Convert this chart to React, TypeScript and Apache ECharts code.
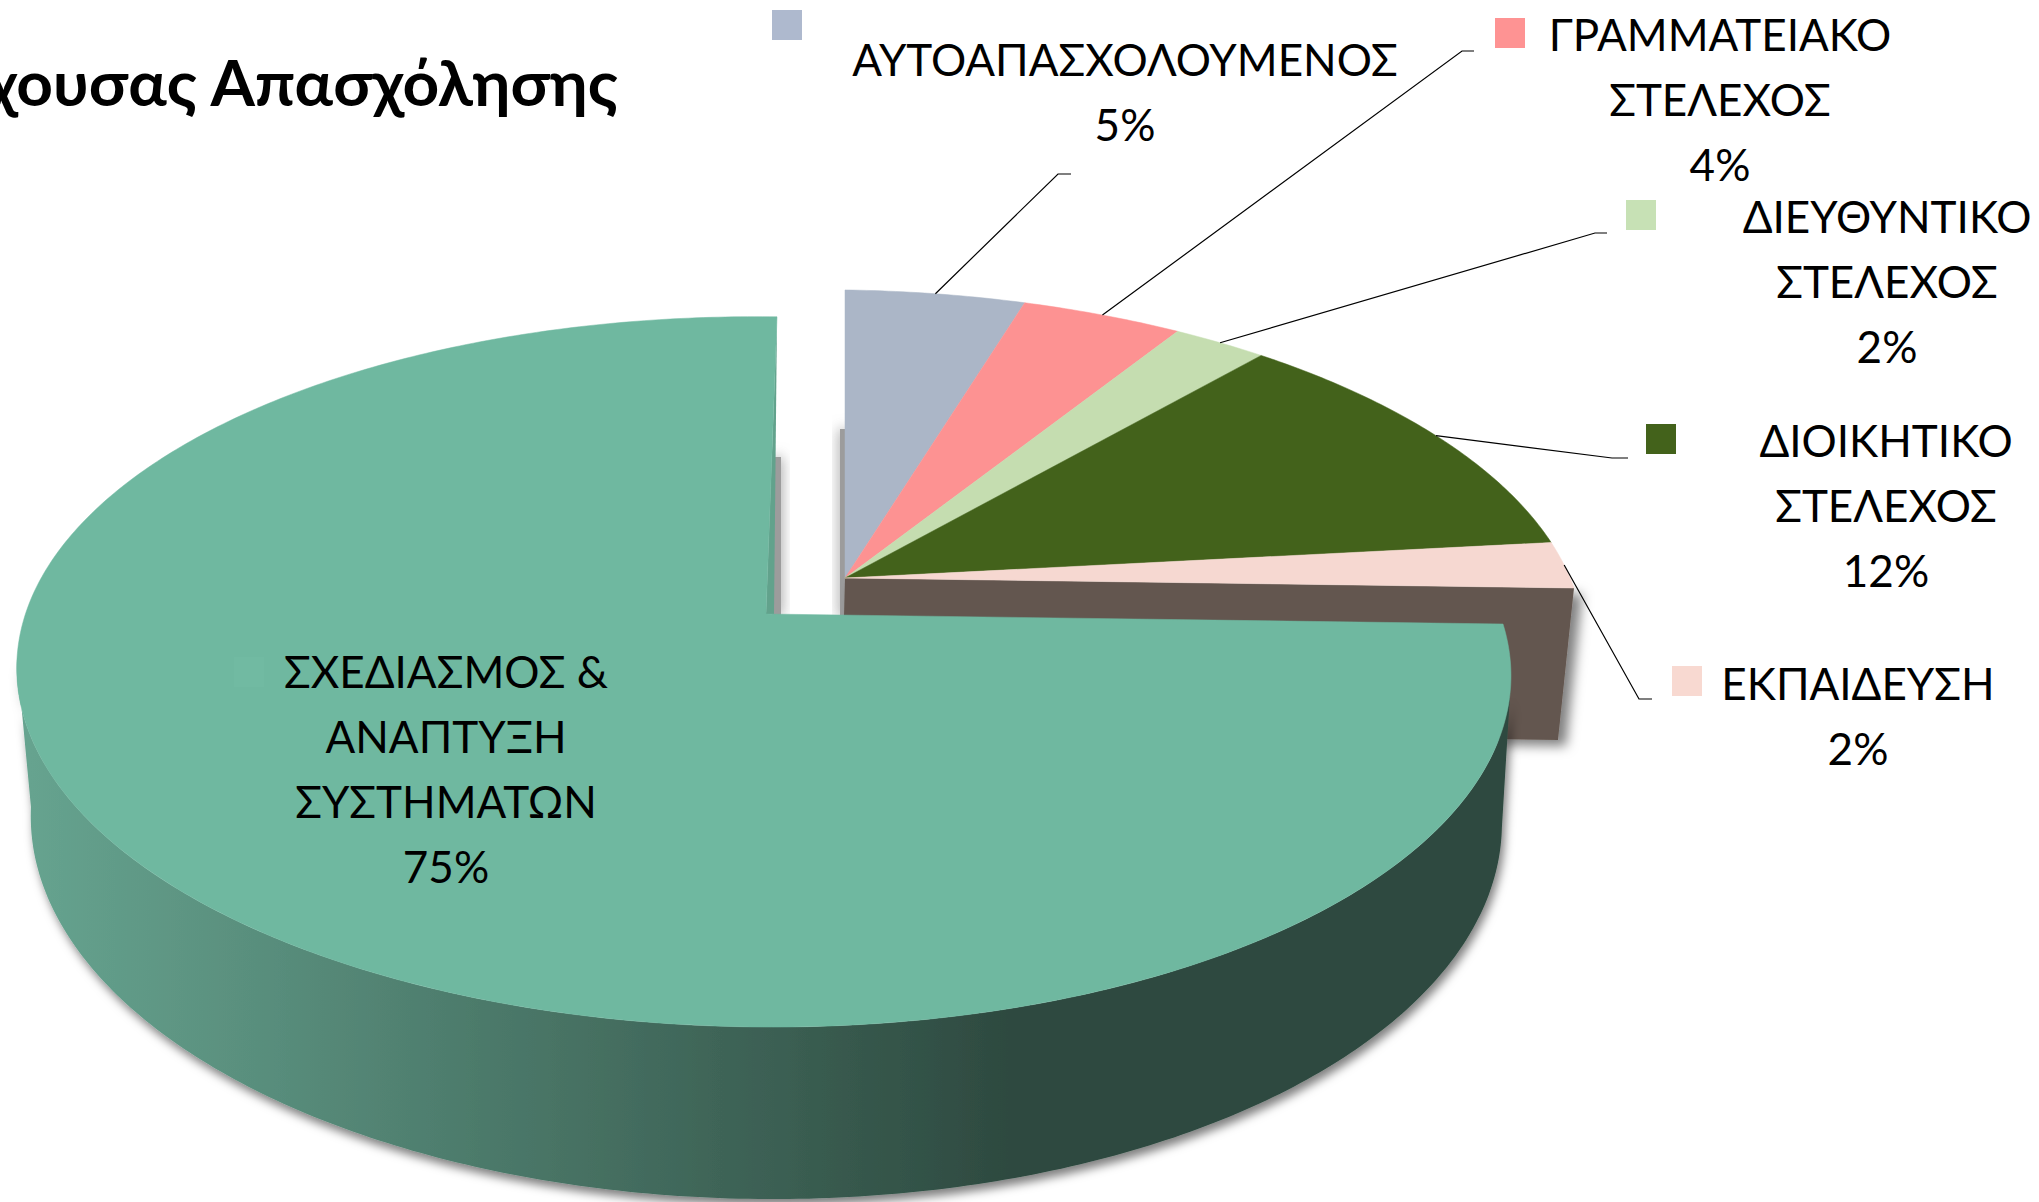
import React, { useEffect, useRef } from "react";
import * as echarts from "echarts";

const categories = [
  "ΑΥΤΟΑΠΑΣΧΟΛΟΥΜΕΝΟΣ",
  "ΓΡΑΜΜΑΤΕΙΑΚΟ\nΣΤΕΛΕΧΟΣ",
  "ΔΙΕΥΘΥΝΤΙΚΟ\nΣΤΕΛΕΧΟΣ",
  "ΔΙΟΙΚΗΤΙΚΟ\nΣΤΕΛΕΧΟΣ",
  "ΕΚΠΑΙΔΕΥΣΗ",
  "ΣΧΕΔΙΑΣΜΟΣ &\nΑΝΑΠΤΥΞΗ\nΣΥΣΤΗΜΑΤΩΝ",
];
const values = [4.6, 4.1, 2.4, 11.7, 2.2, 75];
const sliceColors = ["#ABB6C7", "#FD9292", "#C5DDB0", "#43621B", "#F6D8D1", "#6FB8A0"];
const swatchColors = ["#AEB9CE", "#FE9393", "#C7E1B5", "#43621B", "#F8D9D1", "#71BAA2"];
const titleText = "χουσας Απασχόλησης";

const FONT = "Lato, 'Noto Sans', sans-serif";
const small = { cx: 845, cy: 578, rx: 729, ry: 335, k: 0.163, shear: 0, tilt: 10 };
const big = { cx: 766, cy: 614, rx: 737, ry: 345.6, k: 0.163, shear: -12.8, tilt: 10 };
const labelCenters = [[1125, 91], [1720, 99], [1887, 281], [1886, 505], [1858, 715], [446, 768]];
const swatchBoxes = [[772, 10], [1495, 18], [1626, 200], [1646, 424], [1672, 666], [234, 657]];
const leaderKnees: (number[] | null)[] = [[1058, 174, 1071], [1462, 51, 1474], [1595, 233, 1607], [1612, 458, 1628], [1639, 699, 1652], null];

type Disc = typeof small;
const rad = (d: number) => (d * Math.PI) / 180;
function project(d: Disc, deg: number) {
  const u = Math.sin(rad(deg));
  const v = -Math.cos(rad(deg));
  const w = 1 - d.k * v;
  return [d.cx + (d.rx * u + d.shear * v) / w, d.cy + (d.ry * v + d.tilt * u) / w, w];
}
function arc(d: Disc, a: number, b: number) {
  const n = Math.max(4, Math.ceil(Math.abs(b - a) * 1.5));
  const pts: number[][] = [];
  for (let i = 0; i <= n; i++) pts.push(project(d, a + ((b - a) * i) / n));
  return pts;
}
const total = values.reduce((s, v) => s + v, 0);
function range(i: number, value: number) {
  let c = 0;
  for (let j = 0; j < i; j++) c += values[j];
  return [(c / total) * 360, ((c + value) / total) * 360];
}
const discOf = (i: number) => (i === values.length - 1 ? big : small);
const toXY = (p: number[]) => [p[0], p[1]];

function renderWall(params: any, api: any) {
  const i = params.dataIndex;
  const [, b] = range(i, api.value(0));
  const children: any[] = [];
  if (i === 4) {
    // shadow strip at the left of the exploded group and its cut face along the 3 o'clock radius
    children.push({ type: "rect", shape: { x: 840, y: 429, width: 8, height: 189 }, style: { fill: "#9c9c9c", shadowBlur: 14, shadowColor: "#8c8c8c" } });
    const c = project(small, b);
    const wallH = 152;
    children.push({
      type: "polygon",
      shape: { points: [[small.cx, small.cy], toXY(c), [c[0] - 16, c[1] + wallH], [small.cx - 4, small.cy + wallH]] },
      style: { fill: "#64574F", shadowBlur: 12, shadowOffsetX: 8, shadowOffsetY: 6, shadowColor: "rgba(0,0,0,0.5)" },
    });
  }
  if (i === 5) {
    children.push({ type: "rect", shape: { x: 772, y: 457, width: 9, height: 159 }, style: { fill: "#9c9c9c", shadowBlur: 14, shadowColor: "#8c8c8c" } });
  }
  return { type: "group", children };
}

function renderTop(params: any, api: any) {
  const i = params.dataIndex;
  const d = discOf(i);
  const [a, b] = range(i, api.value(0));
  const fill = sliceColors[i];
  const children: any[] = [];
  if (i === 5) {
    const corner = project(big, b);
    children.push({
      type: "polygon",
      shape: { points: [toXY(corner), [big.cx, big.cy], [big.cx + 8, big.cy]] },
      style: { fill: "#62A28C" },
    });
    const x0 = 925;
    const shrink = 0.0154;
    const H0 = 144;
    const top = arc(big, 99, 261);
    const bottom = top
      .map((p) => [p[0] + (x0 - p[0]) * shrink, p[1] + H0 / p[2]])
      .reverse();
    children.push({
      type: "polygon",
      shape: { points: top.map(toXY).concat(bottom) },
      style: {
        fill: {
          type: "linear", x: 30, y: 0, x2: 1020, y2: 0, global: true,
          colorStops: [{ offset: 0, color: "#66A38F" }, { offset: 1, color: "#2D493F" }],
        },
        shadowBlur: 10, shadowOffsetX: 3, shadowOffsetY: 6, shadowColor: "rgba(0,0,0,0.5)",
      },
    });
  }
  const pts = [[d.cx, d.cy], ...arc(d, a, b).map(toXY)];
  children.push({ type: "polygon", shape: { points: pts }, style: { fill, stroke: fill, lineWidth: 0.5 } });
  return { type: "group", children };
}

function renderLabel(params: any, api: any) {
  const i = params.dataIndex;
  const v = api.value(0);
  const d = discOf(i);
  const [a, b] = range(i, v);
  const children: any[] = [];
  const knee = leaderKnees[i];
  if (knee) {
    const s = project(d, (a + b) / 2);
    children.push({
      type: "polyline",
      shape: { points: [toXY(s), [knee[0], knee[1]], [knee[2], knee[1]]] },
      style: { stroke: "#000", lineWidth: 1.2, fill: "none" },
    });
  }
  children.push({
    type: "rect",
    shape: { x: swatchBoxes[i][0], y: swatchBoxes[i][1], width: 30, height: 30 },
    style: { fill: swatchColors[i] },
  });
  children.push({
    type: "text",
    x: labelCenters[i][0],
    y: labelCenters[i][1],
    style: {
      text: `${categories[i]}\n${Math.round(v)}%`,
      font: `44px ${FONT}`,
      lineHeight: 65,
      fill: "#000",
      align: "center",
      verticalAlign: "middle",
    },
  });
  return { type: "group", children };
}

export default function App() {
  const ref = useRef<HTMLDivElement>(null);
  useEffect(() => {
    const chart = echarts.init(ref.current!, null, { renderer: "svg" });
    const data = values.map((v) => [v]);
    chart.setOption({
      animation: false,
      backgroundColor: "#fff",
      graphic: [
        {
          type: "text",
          x: 618,
          y: 81,
          style: { text: titleText, font: `bold 64px ${FONT}`, fill: "#000", align: "right", verticalAlign: "middle" },
        },
      ],
      series: [
        { type: "custom", coordinateSystem: "none", data, renderItem: renderWall, silent: true },
        { type: "custom", coordinateSystem: "none", data, renderItem: renderTop, silent: true },
        { type: "custom", coordinateSystem: "none", data, renderItem: renderLabel, silent: true },
      ],
    });
    return () => chart.dispose();
  }, []);
  return <div ref={ref} style={{ position: "fixed", left: 0, top: 0, width: 2039, height: 1202 }} />;
}
